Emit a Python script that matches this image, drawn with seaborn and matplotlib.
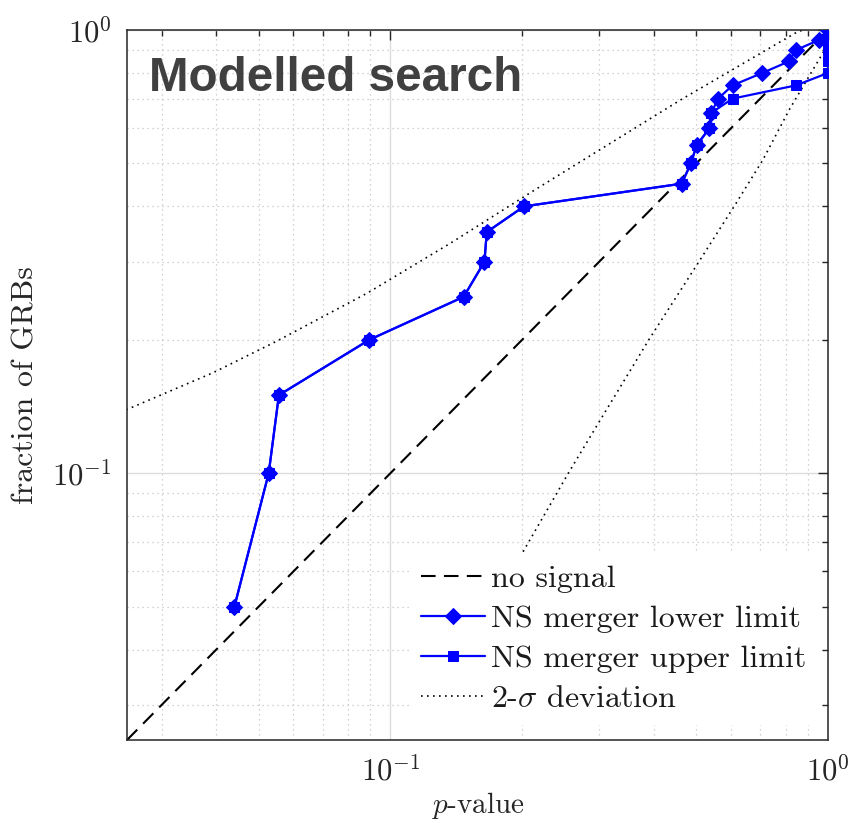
import numpy as np
import pandas as pd
import matplotlib
matplotlib.use("Agg")
import matplotlib.pyplot as plt
from matplotlib.ticker import LogLocator, NullFormatter
import seaborn as sns

# ---------------- data ----------------
frac = [0.05, 0.10, 0.15, 0.20, 0.25, 0.30, 0.35, 0.40, 0.45, 0.50,
        0.55, 0.60, 0.65, 0.70, 0.75, 0.80, 0.85, 0.90, 0.95, 1.00]
p_lower = [0.044, 0.0527, 0.0556, 0.0895, 0.147, 0.164, 0.166, 0.202, 0.463, 0.486,
           0.501, 0.536, 0.541, 0.561, 0.605, 0.708, 0.815, 0.843, 0.954, 1.0]
p_upper = [0.044, 0.0527, 0.0556, 0.0895, 0.147, 0.164, 0.166, 0.202, 0.463, 0.486,
           0.501, 0.536, 0.541, 0.605, 0.845, 1.0, 1.0, 1.0, 1.0, 1.0]

# no-signal diagonal
diag = [0.025, 1.0]

# 2-sigma band
sig_hi_p = [0.0249, 0.0393, 0.0550, 0.0886, 0.1376, 0.214, 0.461, 0.840, 0.875]
sig_hi_f = [0.139, 0.1685, 0.1986, 0.255, 0.331, 0.436, 0.696, 0.983, 1.0]
sig_lo_p = [0.201, 0.255, 0.304, 0.390, 0.508, 0.617, 0.710, 0.815, 0.904, 0.993, 1.0]
sig_lo_f = [0.0665, 0.100, 0.1335, 0.2004, 0.301, 0.407, 0.5095, 0.660, 0.785, 0.917, 0.96]

x_ticks = [0.1, 1.0]
x_ticklabels = [r'$10^{-1}$', r'$10^{0}$']
y_ticks = [0.1, 1.0]
y_ticklabels = [r'$10^{-1}$', r'$10^{0}$']

# ---------------- style ----------------
sns.set_style("white")
plt.rcParams['font.family'] = ['cmr10', 'DejaVu Serif']
plt.rcParams['mathtext.fontset'] = 'cm'
plt.rcParams['axes.formatter.use_mathtext'] = True
plt.rcParams['axes.unicode_minus'] = False

W, H = 854, 823
fig = plt.figure(figsize=(W / 100, H / 100), dpi=100)
ax = fig.add_axes([127 / W, 1 - 740 / H, (828 - 127) / W, (740 - 30) / H])
ax.set_xscale('log')
ax.set_yscale('log')
ax.set_xlim(0.025, 1.0)
ax.set_ylim(0.025, 1.0)

# grids
ax.grid(True, which='major', color='#dcdcdc', lw=1.0, ls='-', zorder=0)
ax.grid(True, which='minor', color='#c4c4c4', lw=0.9, ls=(0, (1, 3)), zorder=0)
ax.set_axisbelow(True)

blue = '#0000ff'
dotted = (0, (1, 2.6))

sns.lineplot(x=diag, y=diag, ax=ax, color='black', lw=1.5,
             linestyle=(0, (7, 4)), sort=False, estimator=None, label='no signal')
sns.lineplot(x=p_lower, y=frac, ax=ax, color=blue, lw=1.6, marker='D',
             markersize=8.5, markeredgecolor=blue, sort=False, estimator=None,
             label='NS merger lower limit', zorder=4)
sns.lineplot(x=p_upper, y=frac, ax=ax, color=blue, lw=1.6, marker='s',
             markersize=7.5, markeredgecolor=blue, sort=False, estimator=None,
             label='NS merger upper limit', zorder=3)
sns.lineplot(x=sig_hi_p, y=sig_hi_f, ax=ax, color='black', lw=1.2,
             linestyle=dotted, sort=False, estimator=None, label=r'2-$\sigma$ deviation')
sns.lineplot(x=sig_lo_p, y=sig_lo_f, ax=ax, color='black', lw=1.2,
             linestyle=dotted, sort=False, estimator=None)

# ticks
ax.set_xticks(x_ticks)
ax.set_xticklabels(x_ticklabels)
ax.set_yticks(y_ticks)
ax.set_yticklabels(y_ticklabels)
ax.xaxis.set_minor_locator(LogLocator(base=10, subs=np.arange(2, 10)))
ax.yaxis.set_minor_locator(LogLocator(base=10, subs=np.arange(2, 10)))
ax.xaxis.set_minor_formatter(NullFormatter())
ax.yaxis.set_minor_formatter(NullFormatter())
ax.tick_params(which='both', direction='in', top=True, right=True,
               color='#262626', width=1.0, labelcolor='#262626')
ax.tick_params(which='major', length=7, labelsize=22, pad=11)
ax.tick_params(which='minor', length=4)
for s in ax.spines.values():
    s.set_color('#262626')
    s.set_linewidth(1.1)

ax.set_xlabel(r'$p$-value', fontsize=21, color='#262626', labelpad=3)
ax.set_ylabel('fraction of GRBs', fontsize=23, color='#262626', labelpad=9)

# legend
handles, labels = ax.get_legend_handles_labels()
leg = ax.legend(handles, labels, loc='lower right', bbox_to_anchor=(1.008, 0.0),
                fontsize=23, frameon=True, framealpha=1.0, edgecolor='white',
                fancybox=False, handlelength=2.0, handletextpad=0.2,
                labelspacing=0.36, borderpad=0.35)
for t in leg.get_texts():
    t.set_color('#1a1a1a')

ax.text(0.032, 0.963, 'Modelled search', transform=ax.transAxes,
        fontsize=34.3, fontweight='bold', color='#404040',
        family='Liberation Sans', va='top', ha='left')

fig.savefig('out.png', dpi=100)
